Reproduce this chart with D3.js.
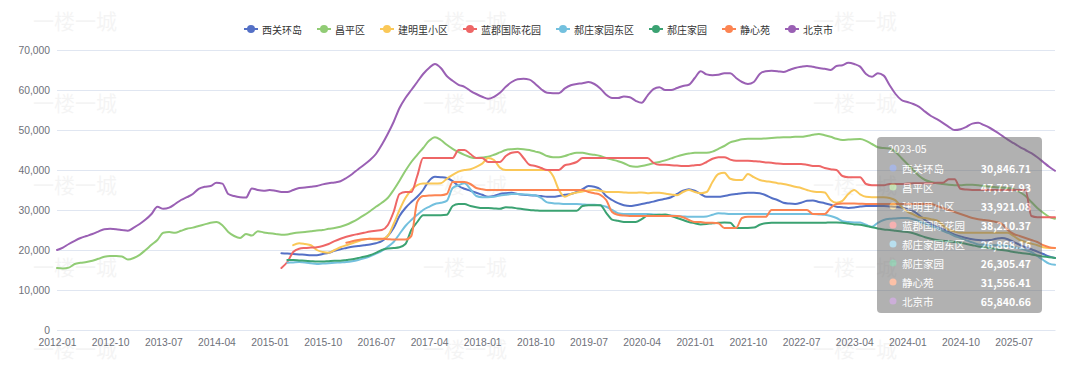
<!DOCTYPE html>
<html><head><meta charset="utf-8">
<script src="https://cdn.jsdelivr.net/npm/d3@7"></script>
<style>
html,body{margin:0;padding:0;background:#fff;}
svg{display:block;font-family:"Microsoft YaHei","Noto Sans CJK SC",sans-serif;}
</style></head>
<body><svg id="c" width="1080" height="368"></svg>
<script>
// ---------- data ----------
const startYear = 2012, monthCount = 170; // 2012-01 .. 2026-02
const seriesNames = ["西关环岛","昌平区","建明里小区","蓝郡国际花园","郝庄家园东区","郝庄家园","静心苑","北京市"];
const seriesColors = ["#5470c6","#91cc75","#fac858","#ee6666","#73c0de","#3ba272","#fc8452","#9a60b4"];
const yTicks = [0,10000,20000,30000,40000,50000,60000,70000];
const xTickLabels = ["2012-01","2012-10","2013-07","2014-04","2015-01","2015-10","2016-07","2017-04","2018-01","2018-10","2019-07","2020-04","2021-01","2021-10","2022-07","2023-04","2024-01","2024-10","2025-07"];
const tooltipMonth = "2023-05";
const watermarkText = "一楼一城";
const N = null;
const pre = n => Array(n).fill(null);

const xiguanhuandao = [].concat(pre(36),
 [N,N,19200,19100,19000,18900,18800,18700,18700,19000,19300,19800],
 [20200,20500,20800,21000,21200,21400,21700,22200,23500,25500,28500,30500],
 [32000,33300,35000,37300,38300,38200,38000,37200,36000,35300,34800,34300],
 [33800,33300,33500,34000,34200,34300,34000,33800,33700,33600,33500,33300],
 [33300,33500,33800,34000,34500,35200,36000,35800,35200,33500,32500,31700],
 [31200,31000,31200,31500,31800,32100,32500,32800,33200,34000,34800,35200],
 [34800,34000,33300,33300,33300,33500,33800,34000,34200,34300,34300,34200],
 [33700,33000,32500,31800,31600,31500,31800,32300,32400,32000,31700,31300],
 [30800,30700,30500,30600,30846.71,31000,31000,31000,31000,30900,30800,30600],
 [30200,29700,28700,27500,26500,25800,25200,24500,23800,23400,23000,22700],
 [22500,22400,22500,22800,23000,22700,22000,21300,20700,20200,19600,19000],
 [18400,18000]);

const changping = [].concat(
 [15500,15400,15600,16500,16800,17000,17300,17800,18300,18500,18500,18400],
 [17600,18000,18800,20000,21300,22500,24300,24500,24300,24800,25300,25600],
 [26000,26400,26800,27000,26200,24500,23500,23000,24000,23600,24700,24400],
 [24200,24000,23800,23900,24200,24400,24500,24700,24900,25000,25300,25500],
 [25800,26300,27000,27800,28700,29700,30800,31800,33000,35000,37300,39800],
 [42000,43800,45500,47300,48200,47500,46300,45300,44500,43800,43200,43000],
 [43100,43300,43800,44400,45000,45200,45300,45200,45000,44600,44200,43500],
 [43200,43200,43500,44000,44300,44300,44000,43800,43500,43000,42600,42200],
 [41700,41000,40800,41000,41300,41700,42000,42400,42900,43400,43800,44100],
 [44300,44300,44300,44600,45300,46000,46900,47300,47700,47800,47800,47800],
 [47900,48000,48100,48200,48200,48300,48300,48500,48800,49000,48700,48300],
 [47800,47500,47600,47700,47727.93,47300,46500,45700,45500,45400,44500,43000],
 [41500,40000,38500,37500,37000,36700,36500,36300,36200,36200,36300,36300],
 [36200,36000,35800,35700,35600,35500,35200,34500,33500,32000,30500,29300],
 [28300,27800]);

const jianmingli = [].concat(pre(36),
 [N,N,N,N,21200,21700,21500,21200,20000,19500,19300,20000],
 [20700,21200,21700,22200,22600,22800,22600,22700,23500,26500,30000,33000],
 [35000,36200,36600,36600,36600,36700,37800,38800,39600,40000,40200,40800],
 [41600,43000,42500,40600,40000,40000,40000,40000,40000,40000,40000,40000],
 [38500,35000,33300,34000,34400,34600,34900,35000,34800,34500,34500,34500],
 [34400,34300,34300,34400,34200,34300,34300,34100,33900,33700,34500,35000],
 [34500,34200,34500,37000,39000,39300,37800,37500,37500,39000,38200,37500],
 [37200,37000,36700,36500,36200,35800,35500,35000,34600,34500,34400,32500],
 [31800,32300,34000,35000,33921.08,33300,33200,33200,33200,33000,32400,30800],
 [29600,28900,28200,28000,27700,27400,26200,25100,24600,24300,24300,24300],
 [24300,24300,24300,24300,24300,24300,23500,22500,22000,21600,21200,20700],
 [20500,20500]);

const lanjun = [].concat(pre(36),
 [N,N,15500,17000,19500,20300,20500,20600,20700,21000,21500,22200],
 [22800,23300,23700,24000,24300,24600,24800,25000,26200,29500,34000,34500],
 [34500,38500,43000,43000,43000,43000,43000,43000,45000,45000,44000,43000],
 [43000,42000,42000,42000,43500,44300,44500,43000,41300,41000,40500,40000],
 [40000,40000,41200,41500,42000,43000,43000,43000,43000,43000,43000,43000],
 [43000,43000,43000,43000,43000,41800,41300,41300,41200,41100,41000,41000],
 [41200,41300,42000,42800,43200,43200,42600,42300,42300,42300,42200,42100],
 [41900,41800,41600,41500,41500,41500,41500,41300,41000,41000,40500,40200],
 [40000,38500,38200,38200,38210.37,36500,36200,36200,36200,36500,36500,36500],
 [36600,36700,36700,36700,36700,36800,36800,37700,37700,35300,35100,35000],
 [35000,35000,35000,35000,35000,35000,35000,35000,35000,28500,28200,28200],
 [28200,28200]);

const haozhuangEast = [].concat(pre(36),
 [N,N,N,16800,16900,17000,16900,16700,16500,16600,16700,16800],
 [16900,17000,17200,17500,17900,18400,19100,19800,20800,22000,24000,26000],
 [27500,28800,30000,30800,31500,31800,32300,35500,36200,36700,35200,33500],
 [33200,33200,33300,33600,33800,34000,34000,33900,33800,33700,33000,31900],
 [31700,31600,31500,31500,31500,31400,31300,31300,31200,30800,30000,29200],
 [29000,29000,29000,29000,29000,28900,28800,28700,28600,28500,28400,28300],
 [28300,28300,28400,28800,29200,29100,29000,29000,29000,29000,29000,29000],
 [29000,29000,29000,29000,29000,29000,29000,29000,29000,28900,28800,28500],
 [28000,27200,27000,26900,26868.16,26300,25800,26800,27500,27800,27900,28000],
 [28000,27700,27200,26600,26000,25500,24800,24200,23500,23000,22400,21900],
 [21400,21300,21200,21200,21100,21000,20700,20400,20000,19500,18500,17500],
 [16600,16300]);

const haozhuang = [].concat(pre(36),
 [N,N,N,17500,17500,17400,17300,17200,17100,17100,17200,17300],
 [17300,17500,17700,18000,18300,18700,19300,20000,20400,20500,20700,21500],
 [25000,27000,28700,28700,28700,28700,28800,31000,31500,31500,31000,30700],
 [30500,30500,30400,30300,30700,30600,30400,30200,30000,29900,29800,29800],
 [29800,29800,29800,29800,29800,31000,31200,31200,31200,29300,27600,27300],
 [27000,27000,27000,27700,28600,28700,28800,28900,28500,28000,27500,27000],
 [26700,26400,26500,26700,26800,26900,26800,25500,25500,25500,25600,26300],
 [26700,26800,26800,26800,26800,26800,26800,26800,26800,26800,26800,26900],
 [26900,26800,26600,26400,26305.47,26000,25700,25400,25100,25000,24800,24600],
 [24500,24200,23700,23200,22800,22500,22300,22200,22000,21800,21500,21200],
 [20900,20700,20500,20200,20000,19800,19500,19300,19100,18900,18600,18400],
 [18200,18000]);

const jingxinyuan = [].concat(pre(48),
 [N,21800,22200,22500,22700,22800,22800,22800,22700,22600,22600,22600],
 [23500,32000,33500,33600,33700,33700,34000,37000,37000,37000,36500,35500],
 [35200,35000,35000,35000,35000,35000,35000,35000,35000,35000,35000,35000],
 [35000,35000,35000,35000,35000,35000,34500,34200,33800,32500,29500,28800],
 [28600,28500,28500,28500,28500,28500,28500,28500,28500,28500,28200,27500],
 [27000,27000,26800,26800,26700,25500,25500,25500,28000,28300,28300,28300],
 [28300,30000,30000,30000,30000,30000,30000,30000,29000,29000,29000,30500],
 [31500,31600,31600,31600,31556.41,31500,31500,31500,31500,31500,31500,31500],
 [31500,31500,31500,31500,31500,31000,30500,30000,29500,29000,28500,28000],
 [27700,27500,27300,27000,26500,25000,24000,23500,23000,22500,22000,21200],
 [20700,20500]);

const beijing = [].concat(
 [20000,20600,21500,22300,23000,23500,24000,24600,25200,25300,25200,25000],
 [24800,25600,26500,27600,29000,30800,30300,30600,31500,32500,33200,34000],
 [35300,35800,36000,36800,36600,34000,33500,33200,33100,35400,35000,34800],
 [35000,34800,34500,34500,35000,35500,35600,35800,36000,36400,36700,36900],
 [37200,38000,39000,40200,41300,42500,44000,46300,49000,52000,55500,58000],
 [60000,62000,64000,65500,66500,65500,63500,62300,61300,60800,59800,59000],
 [58300,57800,58300,59300,60800,62000,62700,62800,62600,61500,60200,59300],
 [59200,59200,60400,61200,61500,61700,62000,61500,60400,58800,58000,58000],
 [58400,58200,57300,56800,58600,60200,60700,60000,60000,60500,61000,61300],
 [63000,64700,63900,63700,63800,64200,64200,63000,62000,61500,62000,64000],
 [64700,64800,64700,64500,65000,65500,65800,66000,65800,65500,65300,65000],
 [66000,66200,66800,66500,65840.66,64000,63300,64200,63600,61200,59000,57500],
 [57000,56500,55800,54600,53500,52700,51800,50800,50000,50200,50800,51600],
 [51800,51200,50500,49600,48600,47600,46700,45800,45000,44200,43200,42000],
 [40800,39800]);

const seriesValues = [xiguanhuandao, changping, jianmingli, lanjun, haozhuangEast, haozhuang, jingxinyuan, beijing];

// ---------- chart ----------
(function () {
const months = [];
for (let i = 0; i < monthCount; i++) {
  const yr = startYear + Math.floor(i / 12), m = i % 12 + 1;
  months.push(yr + "-" + String(m).padStart(2, "0"));
}
const gL = 57, gR = 1055, gT = 50, gB = 330;
const svg = d3.select("#c");

// watermark
const wm = svg.append("g");
[75, 465, 855].forEach(cx => [20, 102, 184, 266, 348].forEach(cy => {
  wm.append("text").attr("x", cx).attr("y", cy).attr("text-anchor", "middle")
    .attr("dominant-baseline", "central").attr("font-size", 21)
    .attr("fill", "#000").attr("opacity", 0.04).text(watermarkText);
}));

const x = d3.scalePoint().domain(months).range([gL, gR]);
const y = d3.scaleLinear().domain([0, 70000]).range([gB, gT]);

// grid lines
svg.append("g").selectAll("line").data(yTicks).join("line")
  .attr("x1", gL).attr("x2", gR)
  .attr("y1", d => Math.round(y(d)) + 0.5).attr("y2", d => Math.round(y(d)) + 0.5)
  .attr("stroke", "#e0e6f1").attr("stroke-width", 1);

// y axis labels
const ya = svg.append("g").attr("transform", `translate(${gL},0)`)
  .call(d3.axisLeft(y).tickValues(yTicks).tickFormat(d3.format(",")).tickSize(0).tickPadding(7));
ya.select(".domain").remove();
ya.selectAll("text").attr("fill", "#6e7079").attr("font-size", 10.3).attr("font-family", "inherit");

// x axis
const xa = svg.append("g").attr("transform", `translate(0,${gB})`)
  .call(d3.axisBottom(x).tickValues(xTickLabels).tickSize(0).tickPadding(9));
xa.select(".domain").attr("stroke", "#e0e6f1");
xa.selectAll("text").attr("fill", "#6e7079").attr("font-size", 10.3).attr("font-family", "inherit");

// lines
const line = d3.line()
  .defined(d => d.v != null)
  .x(d => x(d.m)).y(d => y(d.v))
  .curve(d3.curveMonotoneX);
seriesValues.forEach((vals, si) => {
  svg.append("path")
    .datum(vals.map((v, i) => ({ m: months[i], v })))
    .attr("fill", "none").attr("stroke", seriesColors[si])
    .attr("stroke-width", 2).attr("stroke-linejoin", "round").attr("stroke-linecap", "round")
    .attr("d", line);
});

// legend
const lg = svg.append("g");
let cursor = 0;
seriesNames.forEach((name, i) => {
  const g = lg.append("g");
  g.append("line").attr("x1", 0).attr("x2", 14).attr("y1", 0).attr("y2", 0)
    .attr("stroke", seriesColors[i]).attr("stroke-width", 2);
  g.append("circle").attr("cx", 7).attr("cy", 0).attr("r", 4).attr("fill", seriesColors[i]);
  const t = g.append("text").attr("x", 18).attr("y", 0).attr("dominant-baseline", "central")
    .attr("font-size", 10).attr("fill", "#333").text(name);
  const w = 18 + t.node().getComputedTextLength();
  g.attr("transform", `translate(${cursor},29)`);
  cursor += w + 15;
});
const lgW = cursor - 15;
lg.attr("transform", `translate(${538.5 - lgW / 2},0)`);

// tooltip
const ti = months.indexOf(tooltipMonth);
const tt = svg.append("g").attr("opacity", 0.5);
const tx = 877, ty = 137, tw = 165, th = 176;
tt.append("rect").attr("x", tx).attr("y", ty).attr("width", tw).attr("height", th)
  .attr("rx", 4).attr("fill", "#666");
tt.append("text").attr("x", tx + 11).attr("y", ty + 11).attr("dominant-baseline", "central")
  .attr("font-size", 10.5).attr("fill", "#fff").text(tooltipMonth);
const fmt = d3.format(",.2f");
seriesNames.forEach((name, i) => {
  const ry = ty + 31 + i * 19;
  tt.append("circle").attr("cx", tx + 16).attr("cy", ry).attr("r", 3.5).attr("fill", seriesColors[i]);
  tt.append("text").attr("x", tx + 25).attr("y", ry).attr("dominant-baseline", "central")
    .attr("font-size", 10.5).attr("fill", "#fff").text(name);
  tt.append("text").attr("x", tx + tw - 11).attr("y", ry).attr("dominant-baseline", "central")
    .attr("text-anchor", "end").attr("font-size", 10.5).attr("font-weight", "bold")
    .attr("fill", "#fff").text(fmt(seriesValues[i][ti]));
});
})();
</script></body></html>
